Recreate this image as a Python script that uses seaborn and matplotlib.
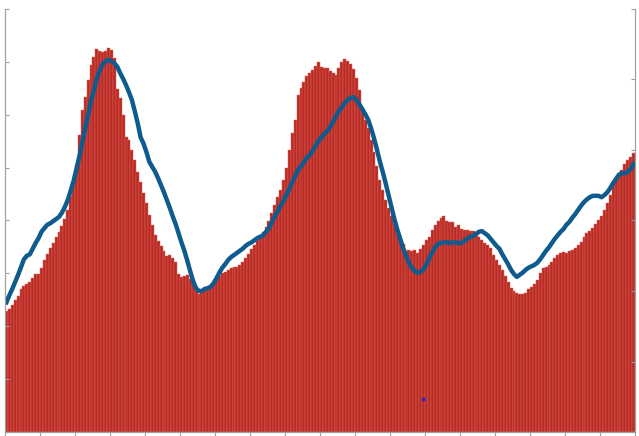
import numpy as np
import pandas as pd
import matplotlib
matplotlib.use("Agg")
import matplotlib.pyplot as plt
import seaborn as sns

# monthly bars (left axis, 0-80) - 18 years x 12 months
bars = [
    22.9, 23.3, 24.0, 25.0, 25.7, 27.0, 27.6, 28.0, 28.4, 29.1, 29.9, 29.9,
    31.0, 32.5, 33.7, 34.8, 35.7, 36.9, 37.8, 39.0, 40.3, 42.0, 44.6, 47.3,
    50.5, 56.2, 60.9, 63.4, 66.6, 69.4, 70.9, 72.4, 72.1, 71.9, 72.1, 72.6,
    72.2, 70.7, 64.9, 63.2, 60.0, 55.8, 55.2, 53.3, 51.4, 49.2, 47.3, 45.2,
    43.3, 41.0, 39.2, 37.3, 36.1, 35.2, 34.2, 33.3, 33.5, 32.9, 32.2, 29.9,
    29.3, 29.5, 29.7, 28.9, 28.0, 26.9, 26.1, 26.5, 27.0, 27.2, 27.6, 28.2,
    28.9, 29.5, 30.1, 30.3, 30.6, 31.0, 31.2, 31.2, 31.6, 32.2, 32.9, 33.7,
    34.6, 35.4, 36.3, 37.1, 37.8, 38.8, 39.9, 41.4, 42.9, 44.4, 45.8, 47.7,
    49.9, 53.3, 56.6, 59.0, 63.7, 65.1, 66.2, 67.3, 67.9, 68.5, 69.2, 70.0,
    69.0, 68.8, 68.8, 68.3, 67.9, 67.5, 68.8, 70.0, 70.5, 70.2, 69.6, 68.7,
    67.0, 64.7, 61.3, 59.0, 57.5, 55.2, 53.0, 50.3, 47.7, 45.8, 43.9, 42.4,
    40.9, 39.3, 37.6, 36.3, 35.6, 34.2, 34.4, 34.2, 34.4, 33.9, 34.6, 35.4,
    36.3, 36.9, 38.2, 39.2, 39.9, 40.5, 40.9, 39.9, 39.7, 39.7, 38.8, 39.2,
    38.4, 38.2, 38.2, 38.0, 38.0, 37.4, 36.9, 36.3, 35.7, 35.4, 34.8, 33.5,
    32.5, 31.6, 30.6, 29.5, 28.4, 27.2, 26.7, 26.3, 26.1, 26.1, 26.3, 27.0,
    27.4, 28.0, 28.7, 30.1, 31.0, 31.2, 31.6, 32.2, 32.9, 33.5, 33.9, 34.0,
    33.9, 34.2, 34.4, 34.8, 35.4, 35.9, 36.9, 37.6, 38.0, 38.6, 39.3, 40.1,
    40.9, 42.0, 43.3, 44.8, 46.9, 47.9, 48.8, 49.6, 50.7, 51.4, 52.0, 52.8,
]

# smoothed series (right axis, 0-60)
trend = [
    18.4, 19.4, 20.3, 21.3, 22.3, 23.4, 24.5, 25.0, 25.2, 26.0, 26.8, 27.5,
    28.4, 28.9, 29.4, 29.6, 29.9, 30.2, 30.5, 31.1, 31.9, 32.9, 34.2, 35.6,
    37.3, 39.1, 41.1, 43.1, 45.0, 46.9, 48.5, 50.2, 51.3, 52.2, 52.6, 52.8,
    52.6, 52.3, 51.8, 50.9, 50.1, 49.2, 48.2, 47.1, 45.5, 43.8, 41.8, 40.9,
    39.7, 38.3, 37.6, 36.9, 36.0, 35.0, 34.0, 32.9, 31.8, 30.6, 29.5, 28.2,
    26.9, 25.7, 24.3, 22.8, 21.4, 20.4, 20.0, 20.0, 20.3, 20.4, 20.6, 21.1,
    21.8, 22.6, 23.3, 23.8, 24.4, 24.8, 25.1, 25.4, 25.7, 26.0, 26.4, 26.7,
    26.9, 27.2, 27.5, 27.7, 27.9, 28.4, 28.9, 29.8, 30.6, 31.3, 32.1, 32.8,
    33.6, 34.5, 35.5, 36.3, 37.2, 37.7, 38.3, 38.9, 39.3, 39.9, 40.6, 41.3,
    41.8, 42.3, 42.7, 43.3, 44.0, 44.8, 45.5, 46.1, 46.7, 47.1, 47.4, 47.5,
    47.1, 46.5, 45.8, 45.1, 44.3, 43.1, 41.7, 40.1, 38.4, 36.9, 35.3, 33.6,
    31.9, 30.2, 28.7, 27.4, 26.1, 25.0, 24.0, 23.3, 22.8, 22.6, 22.7, 23.1,
    23.8, 24.7, 25.5, 26.2, 26.7, 26.8, 26.9, 26.9, 26.8, 26.9, 26.9, 26.8,
    26.8, 27.1, 27.4, 27.7, 27.8, 28.1, 28.4, 28.5, 28.2, 27.9, 27.4, 26.9,
    26.4, 26.0, 25.2, 24.5, 23.8, 23.0, 22.4, 22.0, 22.3, 22.6, 23.0, 23.3,
    23.5, 23.7, 24.0, 24.5, 25.1, 25.7, 26.2, 26.8, 27.4, 27.9, 28.4, 28.8,
    29.4, 29.8, 30.4, 30.9, 31.5, 32.1, 32.6, 33.0, 33.3, 33.5, 33.5, 33.5,
    33.3, 33.6, 34.0, 34.6, 35.3, 35.9, 36.5, 36.7, 36.7, 36.9, 37.3, 38.0,
]

# stray blue dot near the bottom
stray_x = [142.8]
stray_y = [6.2]

months = np.arange(len(bars))
df = pd.DataFrame({"month": months, "bars": bars, "trend": trend})

fig = plt.figure(figsize=(6.39, 4.36), dpi=100)
ax = fig.add_axes([5 / 639, 4 / 436, 630 / 639, 423 / 436])

sns.barplot(data=df, x="month", y="bars", color="#bb2a22", saturation=1,
            width=1.0, edgecolor="#d7675f", linewidth=0.35, ax=ax)
ax.scatter(stray_x, stray_y, s=3, color="#2222dd", marker="s", zorder=5)

ax2 = ax.twinx()
sns.lineplot(data=df, x="month", y="trend", color="#0f5b8e", linewidth=3.2,
             ax=ax2)

ax.set_xlim(-0.5, len(bars) - 0.5)
ax.set_ylim(0, 80)
ax2.set_ylim(0, 60)

ax.set_xticks(np.arange(-0.5, len(bars), 12))
ax.set_yticks(np.arange(0, 81, 10))
ax2.set_yticks(np.arange(0, 61, 10))
ax.set_xticklabels([])
ax.set_yticklabels([])
ax2.set_yticklabels([])
ax.set_xlabel("")
ax.set_ylabel("")
ax2.set_xlabel("")
ax2.set_ylabel("")

spine_col = "#a0a0a0"
for a in (ax, ax2):
    a.spines["top"].set_visible(False)
    for s in ("left", "right", "bottom"):
        a.spines[s].set_color(spine_col)
        a.spines[s].set_linewidth(0.8)
    a.patch.set_visible(False)

ax.tick_params(axis="x", direction="out", length=3, color=spine_col, width=0.8)
ax.tick_params(axis="y", direction="in", length=3, color=spine_col, width=0.8)
ax2.tick_params(axis="y", direction="in", length=3, color=spine_col, width=0.8)

fig.savefig("out.png", dpi=100)
